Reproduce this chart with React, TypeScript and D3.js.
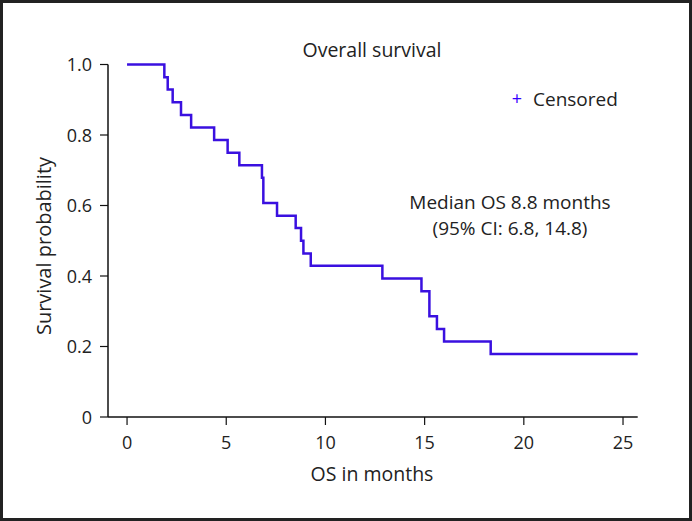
import React from "react";
import * as d3 from "d3";

const eventTimes = [0, 1.88, 2.05, 2.3, 2.72, 3.23, 4.39, 5.07, 5.66, 6.8, 6.87, 7.56, 8.5, 8.77, 8.89, 9.26, 12.87, 14.84, 15.24, 15.62, 15.98, 18.33];
const survival = [1.0, 0.964, 0.929, 0.893, 0.857, 0.821, 0.786, 0.75, 0.714, 0.679, 0.607, 0.571, 0.536, 0.5, 0.464, 0.429, 0.393, 0.357, 0.286, 0.25, 0.214, 0.179];
const followUpEnd = 25.74;
const xTicks = [0, 5, 10, 15, 20, 25];
const yTicks = [0, 0.2, 0.4, 0.6, 0.8, 1.0];
const yTickLabels = ["0", "0.2", "0.4", "0.6", "0.8", "1.0"];

const W = 692;
const H = 521;
const FONT = "'Open Sans', 'Noto Sans', sans-serif";
const TEXT = "#222";
const LINE = "#3a10e0";

export default function App() {
  const x = d3.scaleLinear().domain([-0.96, followUpEnd]).range([108, 637.7]);
  const y = d3.scaleLinear().domain([0, 1]).range([417, 64.5]);

  const pts: [number, number][] = eventTimes.map((t, i) => [t, survival[i]]);
  pts.push([followUpEnd, survival[survival.length - 1]]);
  const line = d3
    .line<[number, number]>()
    .x((d) => x(d[0]))
    .y((d) => y(d[1]))
    .curve(d3.curveStepAfter);

  const x0 = x.range()[0];
  const x1 = x.range()[1];
  const y0 = y(0);

  return (
    <svg
      width={W}
      height={H}
      style={{ position: "absolute", left: 0, top: 0, background: "#fff" }}
      fontFamily={FONT}
    >
      <rect x={1.5} y={1.5} width={W - 3} height={H - 3} fill="#fff" stroke="#222" strokeWidth={3} />

      {/* axes */}
      <line x1={x0} x2={x0} y1={y(1)} y2={y0} stroke="#111" strokeWidth={1.5} />
      <line x1={x0} x2={x1} y1={y0} y2={y0} stroke="#111" strokeWidth={1.5} />

      {yTicks.map((v, i) => (
        <g key={"y" + i}>
          <line x1={x0 - 8} x2={x0} y1={y(v)} y2={y(v)} stroke="#111" strokeWidth={1.2} />
          <text x={x0 - 16} y={y(v) + 6.7} textAnchor="end" fontSize={18} fill={TEXT}>
            {yTickLabels[i]}
          </text>
        </g>
      ))}

      {xTicks.map((v) => (
        <g key={"x" + v}>
          <line x1={x(v)} x2={x(v)} y1={y0} y2={y0 + 8} stroke="#111" strokeWidth={1.2} />
          <text x={x(v)} y={y0 + 32} textAnchor="middle" fontSize={18} fill={TEXT}>
            {v}
          </text>
        </g>
      ))}

      <text x={372} y={481} textAnchor="middle" fontSize={19.5} fill={TEXT}>
        OS in months
      </text>
      <text
        transform={`translate(51, 246) rotate(-90)`}
        textAnchor="middle"
        fontSize={20}
        fill={TEXT}
      >
        Survival probability
      </text>

      <path d={line(pts) || ""} fill="none" stroke={LINE} strokeWidth={2.5} />

      <text x={372} y={57} textAnchor="middle" fontSize={19.5} fill={TEXT}>
        Overall survival
      </text>

      <text x={517} y={105} textAnchor="middle" fontSize={18} fill="#3300ff">
        +
      </text>
      <text x={533} y={106} fontSize={19} fill={TEXT}>
        Censored
      </text>

      <text x={510} y={208.5} textAnchor="middle" fontSize={19} fill={TEXT}>
        Median OS 8.8 months
      </text>
      <text x={510} y={234.5} textAnchor="middle" fontSize={19} fill={TEXT}>
        (95% CI: 6.8, 14.8)
      </text>
    </svg>
  );
}
